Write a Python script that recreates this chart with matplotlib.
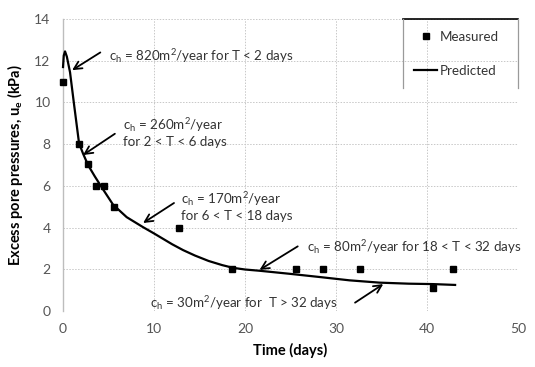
import matplotlib
matplotlib.use("Agg")
import matplotlib.pyplot as plt
from matplotlib.lines import Line2D

# Measured data
meas_t = [0.0, 1.8, 2.75, 3.6, 4.5, 5.6, 12.7, 18.6, 25.6, 28.6, 32.7, 40.7, 42.9]
meas_u = [11.0, 8.0, 7.05, 6.0, 6.0, 5.0, 4.0, 2.0, 2.0, 2.0, 2.0, 1.1, 2.0]

# Predicted curve
pred_t = [0.0, 0.08, 0.22, 0.42, 0.77, 1.2, 1.76, 2.2, 2.75, 3.5, 4.3, 5.5, 7.0, 8.8,
          10.0, 11.0, 12.0, 13.2, 14.5, 16.0, 17.5, 18.7, 20.0, 21.6, 25.0, 28.2,
          31.5, 34.8, 38.0, 40.7, 43.1]
pred_u = [11.7, 12.25, 12.45, 12.2, 11.45, 9.95, 8.05, 7.55, 7.0, 6.45, 5.9, 5.1, 4.5, 4.02,
          3.72, 3.46, 3.2, 2.92, 2.66, 2.4, 2.2, 2.07, 1.99, 1.93, 1.78, 1.63,
          1.47, 1.36, 1.31, 1.29, 1.25]

x_ticks = [0, 10, 20, 30, 40, 50]
y_ticks = [0, 2, 4, 6, 8, 10, 12, 14]

plt.rcParams['font.family'] = ['Lato', 'DejaVu Sans']
plt.rcParams['mathtext.fontset'] = 'custom'
plt.rcParams['mathtext.rm'] = 'Lato'

fig = plt.figure(figsize=(5.35, 3.67), dpi=100)
ax = fig.add_axes([0.1178, 0.1526, 0.968 - 0.1178, 0.948 - 0.1526])

ax.set_xlim(0, 50)
ax.set_ylim(0, 14)
ax.set_xticks(x_ticks)
ax.set_yticks(y_ticks)
ax.grid(True, linestyle=(0, (1.5, 1.5)), color='#c8c8c8', linewidth=0.7)
ax.set_axisbelow(True)
for s in ['top', 'right', 'bottom']:
    ax.spines[s].set_visible(False)
ax.spines['left'].set_color('#bdbdbd')
ax.spines['left'].set_linewidth(1.0)
ax.tick_params(length=0, labelsize=10, labelcolor='#555555', pad=9)

ax.plot(pred_t, pred_u, color='black', linewidth=1.6, zorder=3, clip_on=False)
ax.plot(meas_t, meas_u, linestyle='none', marker='s', markersize=5,
        color='black', zorder=4, clip_on=False)

ax.set_xlabel('Time (days)', fontsize=10.5, fontweight='bold', labelpad=5)
ax.set_ylabel('Excess pore pressures, u$_\\mathregular{e}$ (kPa)', fontsize=10.5,
              fontweight='bold', labelpad=7)

arrow = dict(arrowstyle='->', color='black', lw=1.3, mutation_scale=14,
             shrinkA=0, shrinkB=0)
fs = 9.6
tc = '#333333'
ax.annotate('', xy=(1.0, 11.55), xytext=(4.1, 12.4), arrowprops=arrow)
ax.text(5.0, 12.25, 'c$_\\mathregular{h}$ = 820m$^\\mathregular{2}$/year for T < 2 days',
        fontsize=fs, color=tc, va='center', ha='left')

ax.annotate('', xy=(2.2, 7.48), xytext=(5.7, 8.5), arrowprops=arrow)
ax.text(6.6, 8.6, 'c$_\\mathregular{h}$ = 260m$^\\mathregular{2}$/year\nfor 2 < T < 6 days',
        fontsize=fs, color=tc, va='center', ha='left', linespacing=1.2)

ax.annotate('', xy=(8.8, 4.22), xytext=(12.2, 5.18), arrowprops=arrow)
ax.text(13.0, 5.05, 'c$_\\mathregular{h}$ = 170m$^\\mathregular{2}$/year\nfor 6 < T < 18 days',
        fontsize=fs, color=tc, va='center', ha='left', linespacing=1.2)

ax.annotate('', xy=(21.6, 1.97), xytext=(25.8, 3.1), arrowprops=arrow)
ax.text(26.8, 3.05, 'c$_\\mathregular{h}$ = 80m$^\\mathregular{2}$/year for 18 < T < 32 days',
        fontsize=fs, color=tc, va='center', ha='left')

ax.annotate('', xy=(35.2, 1.29), xytext=(32.1, 0.4), arrowprops=arrow)
ax.text(9.55, 0.38, 'c$_\\mathregular{h}$ = 30m$^\\mathregular{2}$/year for  T > 32 days',
        fontsize=fs, color=tc, va='center', ha='left')

# legend
handles = [Line2D([], [], linestyle='none', marker='s', markersize=4.5, color='black'),
           Line2D([], [], color='black', linewidth=1.6)]
leg = ax.legend(handles, ['Measured', 'Predicted'], loc='upper left',
                bbox_to_anchor=(0.772, 0.96), fontsize=fs, frameon=False,
                borderaxespad=0, borderpad=0, handlelength=1.7, handletextpad=0.25,
                labelspacing=1.65)
for t in leg.get_texts():
    t.set_color(tc)
lx0, lx1, ly0 = 0.748, 1.0, 0.764
ax.plot([lx0, lx1], [1.0, 1.0], transform=ax.transAxes, color='black',
        linewidth=1.2, clip_on=False, zorder=6)
for xx in (lx0, lx1):
    ax.plot([xx, xx], [ly0, 1.0], transform=ax.transAxes, color='#9a9a9a',
            linewidth=0.9, clip_on=False, zorder=6)

fig.savefig('out.png', dpi=100)
